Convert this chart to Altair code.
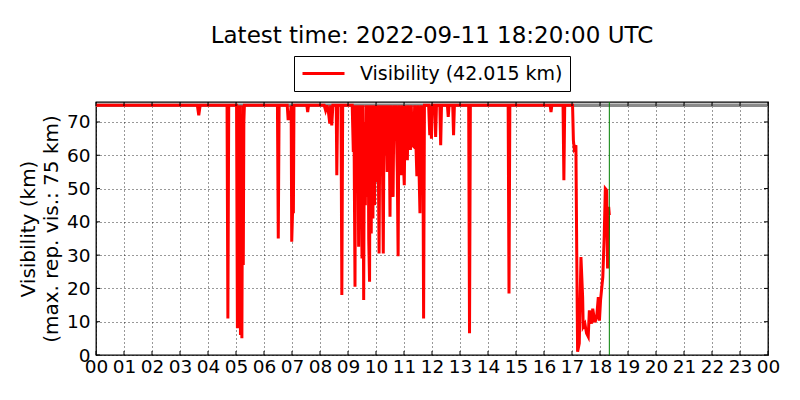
import altair as alt
import pandas as pd

latest_label = "Visibility (42.015 km)"
title_text = "Latest time: 2022-09-11 18:20:00 UTC"
latest_hour = 18 + 20 / 60
max_vis = 75

# time of day (hours, UTC) and visibility (km)
hours = [
    0.00, 3.62, 3.67, 3.72, 4.68, 4.71, 4.74,
    5.02, 5.05, 5.08, 5.10, 5.13, 5.16, 5.19, 5.21, 5.24, 5.26, 5.28, 5.30,
    6.48, 6.51, 6.54, 6.83, 6.86, 6.93, 6.97, 6.99, 7.02, 7.05, 7.07,
    7.53, 7.56, 7.59, 8.15, 8.20, 8.25, 8.30, 8.35, 8.38, 8.42, 8.46,
    8.58, 8.60, 8.63, 8.75, 8.78, 8.81,
    9.15, 9.19, 9.21, 9.25, 9.27, 9.29, 9.31, 9.33, 9.35, 9.38, 9.40, 9.42,
    9.44, 9.46, 9.48, 9.50, 9.52, 9.54, 9.56, 9.58, 9.60, 9.62, 9.64, 9.66,
    9.68, 9.70, 9.72, 9.74, 9.77, 9.79, 9.81, 9.83, 9.85, 9.87, 9.89, 9.91,
    9.93, 9.95, 9.97, 9.99, 10.01, 10.04, 10.08, 10.11, 10.14, 10.18, 10.21,
    10.26, 10.29, 10.33, 10.36, 10.40, 10.43, 10.47, 10.50, 10.53, 10.57,
    10.61, 10.64, 10.68, 10.71, 10.76, 10.79, 10.82, 10.86, 10.90, 10.93,
    10.97, 11.01, 11.04, 11.08, 11.12, 11.15, 11.19, 11.23, 11.26, 11.30,
    11.35, 11.38, 11.42, 11.46, 11.49, 11.53, 11.57, 11.60, 11.63, 11.67,
    11.70, 11.73,
    11.88, 11.92, 11.95, 11.98, 12.01, 12.10, 12.13, 12.16, 12.28, 12.31,
    12.34, 12.55, 12.58, 12.61, 12.74, 12.77, 12.80,
    13.31, 13.34, 13.37, 14.72, 14.75, 14.78, 16.22, 16.25, 16.28,
    16.68, 16.71, 16.74,
    17.02, 17.05, 17.08, 17.14, 17.17, 17.20, 17.26, 17.32, 17.38, 17.40,
    17.46, 17.52, 17.58, 17.62, 17.70, 17.74, 17.82, 17.88, 17.94, 17.98,
    18.02, 18.10, 18.15, 18.19, 18.24, 18.27, 18.31, 18.333,
]
vis_km = [
    75, 75, 72, 75, 75, 11, 75,
    75, 8, 75, 8, 75, 6, 60, 5, 75, 27, 70, 75,
    75, 35, 75, 75, 71, 71, 75, 34, 43, 43, 75,
    75, 73, 75, 75, 73.5, 75, 73, 69.5, 75, 69, 75,
    75, 54, 75, 75, 18, 75,
    75, 61, 75, 20.5, 75, 50, 75, 58, 75, 32.5, 75, 52,
    40, 75, 48, 29, 75, 55, 16.5, 60, 70, 45, 75, 47.5,
    60, 47.5, 75, 35, 22, 75, 50, 36.5, 75, 55, 41, 75,
    48, 45, 75, 60, 52, 75, 60, 30.5, 75, 65, 75,
    30.5, 75, 60, 75, 55, 75, 71.5, 41.5, 75, 60,
    47.5, 75, 65, 75, 55, 29.7, 75, 62, 54, 75,
    60, 51, 75, 64, 58.5, 75, 66, 61.6, 75, 63,
    62.6, 75, 65, 53.7, 75, 58, 42.6, 75, 55, 75,
    11, 75,
    75, 66, 75, 65, 75, 75, 65.5, 75, 75, 63,
    75, 75, 71.5, 75, 75, 66, 75,
    75, 6.5, 75, 75, 18.5, 75, 75, 73, 75,
    75, 52.5, 75,
    75, 64.5, 62, 63, 30, 1, 3.5, 29.4, 17.4, 8.5,
    9.4, 6.5, 5.5, 13.4, 9.4, 13.9, 9.8, 11.3, 17.4, 10.3,
    16.5, 23.4, 35.4, 50, 49.5, 26, 44.5, 42.015,
]

x_ticks = list(range(0, 25))
y_ticks = list(range(0, 80, 10))

df = pd.DataFrame({"hour": hours, "vis": vis_km, "series": latest_label})
font = "DejaVu Sans"

x_axis = alt.Axis(
    values=x_ticks,
    labelExpr="(datum.value % 24 < 10 ? '0' : '') + (datum.value % 24)",
    title=None, ticks=False, domain=False, labelPadding=2,
    labelFontSize=18.5, labelColor="black", labelFlush=False,
    labelOverlap=False,
    grid=True, gridColor="black", gridDash=[1, 3], gridOpacity=0.8,
)
y_axis = alt.Axis(
    values=y_ticks,
    title=["Visibility (km)", "(max. rep. vis.: 75 km)"],
    titleFontSize=20, titleFontWeight="normal", titleLineHeight=23,
    titlePadding=5, titleColor="black",
    ticks=False, domain=False, labelPadding=6,
    labelFontSize=18.5, labelColor="black", labelOverlap=False,
    grid=True, gridColor="black", gridDash=[1, 3], gridOpacity=0.8,
)
x_scale = alt.Scale(domain=[0, 24], nice=False)
y_scale = alt.Scale(domain=[0, 76], nice=False)


def x_enc():
    return alt.X("hour:Q", scale=x_scale, axis=x_axis)


def y_enc():
    return alt.Y("vis:Q", scale=y_scale, axis=y_axis)


max_line = alt.Chart(pd.DataFrame({"vis": [max_vis]})).mark_rule(
    color="#8a8a8a", strokeWidth=3.5
).encode(y=y_enc())

vis_line = alt.Chart(df).mark_line(strokeWidth=3, clip=True).encode(
    x=x_enc(),
    y=y_enc(),
    color=alt.Color(
        "series:N",
        scale=alt.Scale(domain=[latest_label], range=["red"]),
        legend=alt.Legend(
            title=None, orient="none", legendX=198, legendY=-46,
            symbolType="stroke", symbolSize=1764, symbolStrokeWidth=3,
            clipHeight=21, labelOffset=14, labelFontSize=19, labelColor="black",
            labelLimit=0, padding=7, strokeColor="black", fillColor="white",
        ),
    ),
)

now_rule = alt.Chart(pd.DataFrame({"hour": [latest_hour]})).mark_rule(
    color="green", strokeWidth=1
).encode(x=x_enc())

bottom_ticks = alt.Chart(pd.DataFrame({"hour": x_ticks})).mark_rule(
    color="black", strokeWidth=1
).encode(x=x_enc(), y=alt.value(253), y2=alt.value(249))
top_ticks = alt.Chart(pd.DataFrame({"hour": x_ticks})).mark_rule(
    color="black", strokeWidth=1
).encode(x=x_enc(), y=alt.value(0), y2=alt.value(4))
left_ticks = alt.Chart(pd.DataFrame({"vis": y_ticks})).mark_rule(
    color="black", strokeWidth=1
).encode(y=y_enc(), x=alt.value(0), x2=alt.value(4))
right_ticks = alt.Chart(pd.DataFrame({"vis": y_ticks})).mark_rule(
    color="black", strokeWidth=1
).encode(y=y_enc(), x=alt.value(672), x2=alt.value(668))

chart = alt.layer(
    max_line, vis_line, now_rule,
    bottom_ticks, top_ticks, left_ticks, right_ticks,
).properties(
    width=672,
    height=253,
    title=alt.Title(title_text, fontSize=23, fontWeight="normal", font=font,
                    anchor="middle", offset=8, color="black"),
    autosize=alt.AutoSizeParams(type="none"),
    padding={"left": 88, "top": 94, "right": 24, "bottom": 37},
).configure(
    font=font,
).configure_axis(
    labelOverlap=False,
).configure_view(
    stroke="black", strokeWidth=1.3,
)

chart.save("out.html", embed_options={"renderer": "svg", "actions": False})
